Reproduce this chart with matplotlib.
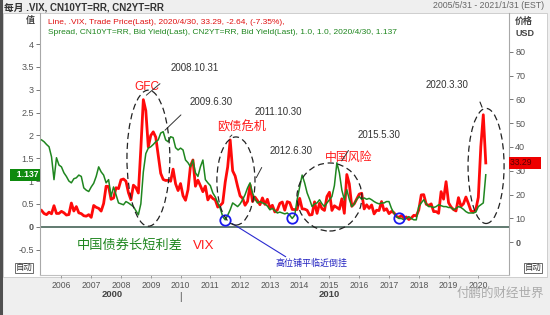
import matplotlib
matplotlib.use("Agg")
import matplotlib.pyplot as plt
from matplotlib.patches import Ellipse, Rectangle
from matplotlib.lines import Line2D
import matplotlib.transforms as mtransforms
import numpy as np

plt.rcParams['font.family'] = ['Liberation Sans', 'Noto Sans CJK SC', 'DejaVu Sans']

# monthly data, May 2005 .. Apr 2020
start_year = 2005
start_month = 5

vix = [
    13.29, 12.04, 11.57, 12.60, 11.92, 15.32, 12.06, 12.07,                    # 2005
    12.95, 12.34, 11.39, 11.59, 16.44, 13.08, 14.95, 12.31, 11.98, 11.10, 10.91, 11.56,
    10.42, 15.42, 14.64, 14.22, 13.05, 16.23, 23.52, 23.38, 18.00, 18.53, 22.87, 22.50,
    26.20, 26.54, 25.61, 20.79, 17.83, 23.95, 22.94, 20.65, 39.39, 59.89, 55.28, 40.00,
    44.84, 46.35, 44.14, 36.50, 28.92, 26.35, 25.92, 26.01, 25.61, 30.69, 24.51, 21.68,
    24.62, 19.50, 17.59, 22.05, 32.07, 34.54, 23.50, 26.05, 23.70, 21.20, 23.54, 17.75,
    19.53, 18.35, 17.74, 14.75, 15.45, 16.52, 25.25, 31.62, 42.96, 29.96, 27.80, 23.40,
    19.44, 18.43, 15.50, 17.15, 24.06, 17.08, 18.93, 17.47, 15.73, 18.60, 15.87, 18.02,
    14.28, 15.51, 12.70, 13.52, 16.30, 16.86, 13.45, 17.01, 16.60, 13.75, 13.70, 13.72,
    18.41, 14.00, 13.88, 13.41, 11.40, 11.57, 16.95, 12.09, 16.31, 14.03, 13.33, 19.20,
    20.97, 13.34, 15.29, 14.55, 13.84, 18.23, 12.12, 28.43, 24.50, 15.07, 16.13, 18.21,
    20.20, 20.55, 13.95, 15.70, 14.19, 15.63, 11.87, 13.42, 13.29, 17.06, 13.33, 14.04,
    11.99, 12.92, 12.37, 10.82, 10.41, 11.18, 10.26, 10.59, 9.51, 10.18, 11.28, 11.04,
    13.54, 19.85, 19.97, 15.93, 15.43, 16.09, 12.83, 12.86, 12.12, 21.23, 18.07, 25.42,
    16.57, 14.78, 13.71, 13.12, 18.71, 15.08, 16.12, 18.98, 16.24, 13.22, 12.62, 13.78,
    18.84, 40.11, 53.54, 33.29,                                                # 2020
]

spread = [
    1.90, 1.86, 1.80, 1.75, 1.53, 1.03, 1.51, 1.35,                            # 2005
    1.31, 1.18, 1.10, 1.00, 0.96, 1.05, 1.07, 1.13, 1.10, 0.85, 0.80, 0.77,
    0.87, 0.95, 1.10, 1.31, 1.20, 1.13, 0.96, 1.03, 0.66, 0.87, 0.70, 0.52,
    0.50, 0.48, 0.55, 0.52, 0.48, 0.44, 0.35, 0.26, 0.50, 1.20, 1.60, 1.72,
    1.75, 1.80, 1.86, 1.90, 2.05, 2.08, 1.90, 1.86, 1.97, 1.95, 1.73, 1.68,
    1.72, 1.68, 1.46, 1.40, 1.31, 1.46, 1.18, 1.10, 1.31, 1.46, 1.03, 0.96,
    0.90, 0.74, 0.65, 0.52, 0.40, 0.22, 0.15, 0.25, 0.37, 0.52, 0.48, 0.44,
    0.50, 0.59, 0.70, 0.85, 0.96, 0.74, 0.60, 0.52, 0.55, 0.52, 0.50, 0.45,
    0.37, 0.40, 0.35, 0.30, 0.32, 0.30, 0.28, 0.30, 0.25, 0.18, 0.25, 0.60,
    0.87, 1.13, 0.96, 0.74, 0.60, 0.44, 0.50, 0.52, 0.59, 0.50, 0.44, 0.52,
    0.59, 0.66, 0.90, 1.40, 1.18, 0.80, 0.59, 0.81, 0.60, 0.44, 0.50, 0.60,
    0.66, 0.60, 0.63, 0.60, 0.62, 0.59, 0.55, 0.52, 0.50, 0.52, 0.52, 0.55,
    0.55, 0.40, 0.30, 0.22, 0.18, 0.18, 0.15, 0.18, 0.22, 0.18, 0.15, 0.15,
    0.44, 0.52, 0.59, 0.50, 0.44, 0.44, 0.42, 0.44, 0.48, 0.46, 0.44, 0.44,
    0.42, 0.42, 0.37, 0.40, 0.44, 0.42, 0.38, 0.33, 0.30, 0.30, 0.30, 0.32,
    0.44, 0.48, 0.52, 1.137,                                                   # 2020
]

years = list(range(2006, 2021))
# (year, month) of the flat / near-inversion points marked by circles
flat_points = [(2011, 7), (2013, 10), (2017, 5)]

W, H = 550, 315


def fx(x):
    return x / W


def fy(y):
    return 1 - y / H


dates = start_year + (start_month - 1) / 12 + np.arange(len(vix)) / 12

fig = plt.figure(figsize=(W / 100, H / 100), dpi=100, facecolor='#efefef')
fig.add_artist(Rectangle((fx(3), fy(277)), (547 - 3) / W, (277 - 13) / H,
                         transform=fig.transFigure, facecolor='white',
                         edgecolor='#c8c8c8', lw=0.6, zorder=-5))
fig.add_artist(Line2D([fx(1), fx(1)], [0, 1], transform=fig.transFigure,
                      color='#505050', lw=2.2))

ax = fig.add_axes([fx(40), fy(275), (509 - 40) / W, (275 - 13) / H])
ax2 = ax.twinx()
ax.set_zorder(ax2.get_zorder() + 1)
ax.patch.set_visible(False)

ax.set_xlim(2005.28, 2021.03)
ax.set_ylim(-1.058, 4.679)
ax2.set_ylim(-13.8, 96.3)

# lines
ax2.plot(dates, vix, color='#ff0a0a', lw=2.0, solid_joinstyle='round', zorder=2)
ax.axhline(0, color='#607a70', lw=1.4, zorder=1)
ax.plot(dates, spread, color='#1f861f', lw=1.1, zorder=3)

# circles on flat curve points
cx = [y + (m - 1) / 12 for y, m in flat_points]
cy = [spread[(y - start_year) * 12 + m - start_month] for y, m in flat_points]
ax.plot(cx, cy, 'o', ms=7.5, mfc='none', mec='#1a1aee', mew=1.3, zorder=4)

# axes styling
for s in ['top']:
    ax.spines[s].set_visible(False)
    ax2.spines[s].set_visible(False)
ax.spines['right'].set_visible(False)
ax2.spines['left'].set_visible(False)
ax2.spines['bottom'].set_visible(False)
ax.spines['left'].set_color('#a8a8a8')
ax.spines['bottom'].set_color('#c0c0c0')
ax2.spines['right'].set_color('#a8a8a8')

lticks = np.arange(-0.5, 4.01, 0.5)
ax.set_yticks(lticks, labels=['%g' % v for v in lticks])
ax2.set_yticks(range(0, 81, 10), labels=[str(v) for v in range(0, 81, 10)])
ax.set_xticks(years, labels=[str(y) for y in years])
ax.tick_params(axis='y', direction='out', length=3, width=0.7, color='#777777',
               labelcolor='#555555', labelsize=6.5, pad=1.5)
ax2.tick_params(axis='y', direction='out', length=3, width=0.7, color='#777777',
                labelcolor='#555555', labelsize=6.5, pad=1.5)
ax.tick_params(axis='x', direction='out', length=2, width=0.7, color='#999999',
               labelcolor='#555555', labelsize=6.2, pad=2)
for lab in ax.get_yticklabels() + ax2.get_yticklabels():
    if lab.get_text() == '0':
        lab.set_fontweight('bold')

# decade labels
xb = mtransforms.blended_transform_factory(ax.transData, ax.transAxes)
ax.text(2007.7, -0.073, '2000', transform=xb, ha='center', va='center',
        fontsize=6.8, fontweight='bold', color='#444444')
ax.text(2015.0, -0.073, '2010', transform=xb, ha='center', va='center',
        fontsize=6.8, fontweight='bold', color='#444444')
ax.text(2010.0, -0.085, '|', transform=xb, ha='center', va='center',
        fontsize=7, color='#444444')

# last value boxes
yb1 = mtransforms.blended_transform_factory(ax.transAxes, ax.transData)
ax.text(-0.003, spread[-1], '  %.3f' % spread[-1], transform=yb1, ha='right', va='center',
        fontsize=6.2, fontweight='bold', color='white', zorder=6,
        bbox=dict(boxstyle='square,pad=0.2', fc='#0e8a0e', ec='none'))
yb2 = mtransforms.blended_transform_factory(ax2.transAxes, ax2.transData)
ax2.text(1.003, vix[-1], '%.2f   ' % vix[-1], transform=yb2, ha='left', va='center',
         fontsize=6.2, color='#5a0000', zorder=6,
         bbox=dict(boxstyle='square,pad=0.2', fc='#ee0000', ec='none'))

# legend texts
ax.text(0.017, 0.962, 'Line, .VIX, Trade Price(Last), 2020/4/30, 33.29, -2.64, (-7.35%),',
        transform=ax.transAxes, fontsize=6, color='#e01010', va='center')
ax.text(0.017, 0.924, 'Spread, CN10YT=RR, Bid Yield(Last), CN2YT=RR, Bid Yield(Last), '
        '1.0, 1.0, 2020/4/30, 1.137',
        transform=ax.transAxes, fontsize=6, color='#1f861f', va='center')

# header
fig.text(fx(4), fy(7), '每月 .VIX, CN10YT=RR, CN2YT=RR', fontsize=7, fontweight='bold',
         color='#333333', va='center')
fig.text(fx(544), fy(6), '2005/5/31 - 2021/1/31 (EST)', fontsize=6.3,
         color='#666666', va='center', ha='right')
fig.text(fx(30), fy(20), '值', fontsize=6.5, fontweight='bold', color='#444444',
         va='center', ha='center')
fig.text(fx(524), fy(21), '价格', fontsize=6.5, fontweight='bold', color='#444444',
         va='center', ha='center')
fig.text(fx(525), fy(33), 'USD', fontsize=6.5, fontweight='bold', color='#444444',
         va='center', ha='center')
for xx in [24, 533]:
    fig.text(fx(xx), fy(268), '自动', fontsize=6, color='#333333', va='center', ha='center',
             bbox=dict(boxstyle='square,pad=0.1', fc='white', ec='#555555', lw=0.6))
fig.text(fx(500), fy(294), '付鹏的财经世界', fontsize=9, color='#9a9a9a',
         va='center', ha='center', alpha=0.8)

# dashed ellipses
dash = (0, (5, 3))
for (ex, ey, ew, eh) in [(2008.92, 1.50, 1.44, 2.98), (2011.86, 1.00, 1.28, 1.93),
                         (2015.0, 0.65, 2.18, 1.49), (2020.26, 1.33, 1.21, 2.52)]:
    ax.add_patch(Ellipse((ex, ey), ew, eh, fill=False, ls=dash, lw=0.9,
                         color='#222222', zorder=5))

# annotation texts
ann = dict(fontsize=7, color='#333333', ha='center', va='center')
ax.text(2010.49, 3.475, '2008.10.31', **ann)
ax.text(2011.03, 2.73, '2009.6.30', **ann)
ax.text(2013.27, 2.51, '2011.10.30', **ann)
ax.text(2013.71, 1.66, '2012.6.30', **ann)
ax.text(2016.66, 2.01, '2015.5.30', **ann)
ax.text(2018.95, 3.10, '2020.3.30', **ann)

red = dict(color='#ff1a1a', ha='center', va='center')
ax.text(2008.87, 3.06, 'GFC', fontsize=8.5, **red)
ax.text(2012.06, 2.18, '欧债危机', fontsize=8.8, **red)
ax.text(2015.66, 1.50, '中国风险', fontsize=8.6, **red)

seg = dict(arrowstyle='-', lw=0.7, color='#333333')
for (x0, y0, x1, y1) in [(2008.78, 2.84, 2009.38, 3.17), (2009.41, 2.07, 2010.08, 2.49),
                         (2012.50, 1.02, 2012.77, 1.35), (2011.59, 1.92, 2011.79, 2.05),
                         (2015.36, 1.39, 2015.69, 1.72)]:
    ax.annotate('', xy=(x0, y0), xytext=(x1, y1), arrowprops=seg)
ax.annotate('', xy=(2020.00, 2.82), xytext=(2020.16, 2.56),
            arrowprops=dict(arrowstyle='-', lw=0.8, color='#222222', ls=dash))

ax.annotate('', xy=(2011.66, 0.10), xytext=(2013.61, -0.69),
            arrowprops=dict(arrowstyle='-', lw=0.8, color='#2a2ad0'))
ax.text(2014.41, -0.80, '高位铺平临近倒挂', fontsize=6.5, color='#2020c0',
        ha='center', va='center')

ax.text(2008.30, -0.42, '中国债券长短利差', fontsize=9.5, color='#1f861f',
        ha='center', va='center')
ax.text(2010.42, -0.42, 'VIX', fontsize=9.5, color='#ff1a1a', ha='left', va='center')

fig.savefig('out.png', dpi=100, facecolor=fig.get_facecolor())
